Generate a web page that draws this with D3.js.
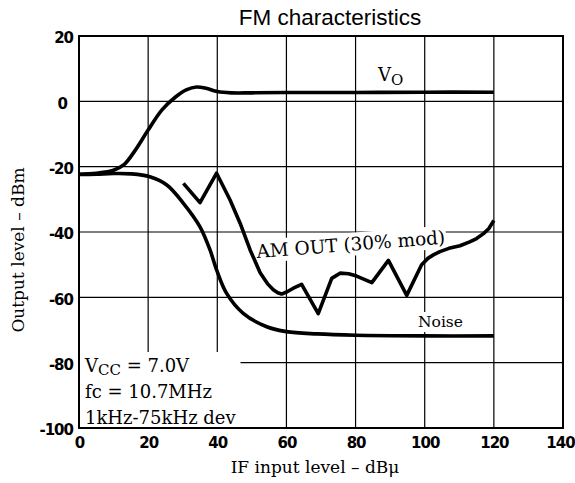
<!DOCTYPE html>
<html>
<head>
<meta charset="utf-8">
<script src="https://cdn.jsdelivr.net/npm/d3@7"></script>
<style>
  html, body { margin: 0; padding: 0; background: #fff; }
  svg { display: block; }
</style>
</head>
<body>
<svg id="chart" width="575" height="483"></svg>
<script>
// ---- data ----
const xTicks = [0, 20, 40, 60, 80, 100, 120, 140];
const yTicks = [20, 0, -20, -40, -60, -80, -100];

const voX = [0, 5, 10, 13, 16, 20, 24, 28, 31, 34, 37, 40, 44, 50, 60, 80, 100, 120];
const voY = [-22.3, -22.0, -21.1, -19.4, -15.4, -8.8, -2.6, 1.4, 3.5, 4.4, 3.9, 3.0, 2.6, 2.6, 2.7, 2.7, 2.8, 2.8];

const noiseX = [0, 5, 10, 15, 20.5, 25.4, 30.2, 35, 37.9, 39.8, 42.7, 47.5, 54.3, 60, 68.8, 80, 100, 120];
const noiseY = [-22.4, -22.3, -22.1, -22.2, -23.1, -25.6, -31.2, -38.4, -45.5, -51.6, -58.8, -64.9, -69.0, -70.5, -71.2, -71.6, -71.8, -71.8];

const amX = [30.2, 35, 39.8, 43.7, 46.6, 49.5, 52.4, 54.5, 56.2, 57.5, 58.6, 60.2, 62, 64.4, 69.2, 73.1, 75.5, 78, 80.3, 84.7, 89.5, 94.8, 99.1, 101, 102.5, 104.4, 107, 110.2, 113, 115, 117, 118.5, 120];
const amY = [-25.1, -31.0, -22.0, -30.2, -37.3, -45.5, -52.5, -55.8, -57.7, -58.6, -59.0, -58.3, -57.2, -56.0, -65.0, -54.2, -52.6, -52.8, -53.5, -55.5, -48.7, -59.4, -50.0, -48.0, -47.0, -46.0, -45.0, -44.2, -43.0, -42.0, -40.5, -39.0, -36.5];

const titleText = "FM characteristics";
const xTitle = "IF input level \u2013 dB\u03bc";
const yTitle = "Output level \u2013 dBm";

// ---- drawing ----
const svg = d3.select("#chart");
const L = 79, R = 563, T = 36, B = 428;
const x = d3.scaleLinear().domain([0, 140]).range([L, R]);
const y = d3.scaleLinear().domain([-100, 20]).range([B, T]);

const serif = "'DejaVu Serif', serif";
const sans = "'Liberation Sans', Arial, sans-serif";

// grid
const grid = svg.append("g").attr("stroke", "#000").attr("stroke-width", 1.2);
grid.selectAll("line.v").data(xTicks).join("line")
  .attr("x1", d => x(d)).attr("x2", d => x(d)).attr("y1", T).attr("y2", B);
grid.selectAll("line.h").data(yTicks).join("line")
  .attr("x1", L).attr("x2", R).attr("y1", d => y(d)).attr("y2", d => y(d));

// label layer (white backgrounds hide grid)
const labels = svg.append("g");

function boxed(g, pad) {
  const bb = g.node().getBBox();
  g.insert("rect", ":first-child")
    .attr("x", bb.x - pad).attr("y", bb.y - pad)
    .attr("width", bb.width + 2 * pad).attr("height", bb.height + 2 * pad)
    .attr("fill", "#fff");
}

// Vcc block
const vcc = labels.append("g").attr("font-family", serif).attr("font-size", 18).attr("fill", "#000");
const t1 = vcc.append("text").attr("x", 85).attr("y", 372);
t1.append("tspan").text("V");
t1.append("tspan").attr("font-size", 15).attr("dy", 3).text("CC");
t1.append("tspan").attr("dy", -3).text(" = 7.0V");
vcc.append("text").attr("x", 85).attr("y", 398).text("fc = 10.7MHz");
vcc.append("text").attr("x", 85).attr("y", 424).text("1kHz-75kHz dev");
{
  const bb = vcc.node().getBBox();
  vcc.insert("rect", ":first-child")
    .attr("x", L).attr("y", bb.y - 3)
    .attr("width", bb.x + bb.width + 4 - L).attr("height", B - (bb.y - 3))
    .attr("fill", "#fff");
}

// AM OUT label (slanted)
const am = labels.append("g").attr("transform", "translate(257,258) rotate(-4.4)");
am.append("text").attr("font-family", serif).attr("font-size", 18.5)
  .text("AM OUT (30% mod)");
boxed(am, 1);

// Noise label
const nz = labels.append("g");
nz.append("text").attr("x", 418).attr("y", 327).attr("font-family", serif)
  .attr("font-size", 15.5).text("Noise");
boxed(nz, 1);

// Vo label
const vo = labels.append("text").attr("x", 378).attr("y", 81)
  .attr("font-family", serif).attr("font-size", 18);
vo.append("tspan").text("V");
vo.append("tspan").attr("font-size", 15).attr("dy", 4).text("O");

// frame
svg.append("rect").attr("x", L).attr("y", T).attr("width", R - L).attr("height", B - T)
  .attr("fill", "none").attr("stroke", "#000").attr("stroke-width", 2);

// curves
const smooth = d3.line().x(d => x(d[0])).y(d => y(d[1])).curve(d3.curveCatmullRom.alpha(0.5));
const sharp = d3.line().x(d => x(d[0])).y(d => y(d[1]));
const curves = svg.append("g").attr("fill", "none").attr("stroke", "#000")
  .attr("stroke-width", 3.6).attr("stroke-linejoin", "round").attr("stroke-linecap", "butt");
curves.append("path").attr("d", smooth(d3.zip(voX, voY)));
curves.append("path").attr("d", smooth(d3.zip(noiseX, noiseY)));
curves.append("path").attr("d", sharp(d3.zip(amX, amY)));

// axes (labels only)
const tickFont = "'DejaVu Sans', sans-serif";
const fmt = d => String(d);
const xAxis = svg.append("g").attr("transform", `translate(0,${B})`)
  .call(d3.axisBottom(x).tickValues(xTicks).tickSize(0).tickPadding(9).tickFormat(fmt));
const yAxis = svg.append("g").attr("transform", `translate(${L},0)`)
  .call(d3.axisLeft(y).tickValues(yTicks).tickSize(0).tickPadding(6).tickFormat(fmt));
[xAxis, yAxis].forEach(a => {
  a.select(".domain").remove();
  a.selectAll("text").attr("font-family", tickFont).attr("font-weight", "bold")
    .attr("font-size", 15).attr("letter-spacing", -1).attr("fill", "#000");
});
yAxis.selectAll("text").attr("dy", "0.45em");
yAxis.selectAll("text").filter(d => d === 0).attr("dx", -6);
xAxis.selectAll("text").filter(d => d === 140).attr("dx", -3);

// titles
svg.append("text").attr("x", 330).attr("y", 25).attr("text-anchor", "middle")
  .attr("font-family", sans).attr("font-size", 22.5).text(titleText);
svg.append("text").attr("x", 315).attr("y", 473).attr("text-anchor", "middle")
  .attr("font-family", serif).attr("font-size", 17).text(xTitle);
svg.append("text").attr("transform", "translate(24,250) rotate(-90)").attr("text-anchor", "middle")
  .attr("font-family", serif).attr("font-size", 17).text(yTitle);
</script>
</body>
</html>
